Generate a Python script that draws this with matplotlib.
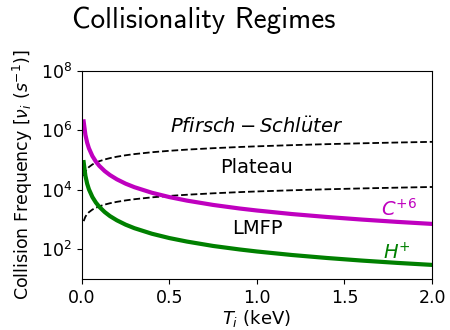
import os
import matplotlib
matplotlib.use("Agg")
import matplotlib.pyplot as plt
from matplotlib.font_manager import FontProperties

# Ion temperature grid (keV)
T_keV = [0.01, 0.02, 0.03, 0.04, 0.06, 0.08, 0.1, 0.13, 0.16, 0.2, 0.25, 0.3,
         0.4, 0.5, 0.6, 0.75, 0.9, 1.0, 1.2, 1.4, 1.6, 1.8, 2.0]

# Collision frequencies (1/s)
nu_H = [85000, 29500, 16000, 10400, 5680, 3690, 2640, 1780, 1300, 933, 667, 508,
        330, 236, 180, 128, 97.7, 83.4, 63.5, 50.4, 41.2, 34.5, 29.5]
nu_C = [2.0e6, 708000, 385000, 250000, 136000, 88500, 63300, 42700, 31300, 22400,
        16000, 12200, 7920, 5660, 4310, 3080, 2340, 2000, 1520, 1210, 990, 829, 708]

# Regime boundaries (1/s)
nu_PS = [29000, 41000, 50200, 58000, 71000, 82000, 91700, 104500, 116000, 129700,
         145000, 158800, 183400, 205000, 224600, 251000, 275000, 290000, 317600,
         343000, 366700, 389000, 410000]
nu_LMFP = [877, 1240, 1520, 1750, 2150, 2480, 2770, 3160, 3510, 3920, 4380, 4800,
           5550, 6200, 6790, 7590, 8320, 8770, 9600, 10370, 11090, 11760, 12400]

plt.rcParams['mathtext.fontset'] = 'dejavusans'

fig = plt.figure(figsize=(4.5, 3.3), dpi=100)
ax = fig.add_axes([0.182, 0.155, 0.778, 0.63])

ax.plot(T_keV, nu_PS, 'k--', lw=1.3)
ax.plot(T_keV, nu_LMFP, 'k--', lw=1.3)
ax.plot(T_keV, nu_C, color='m', lw=3)
ax.plot(T_keV, nu_H, color='g', lw=3)

ax.set_yscale('log')
ax.set_xlim(0, 2)
ax.set_ylim(10, 1e8)
ax.set_yticks([1e2, 1e4, 1e6, 1e8])

ax.text(1.0, 1.3e6, r'$Pfirsch-Schl\ddot{u}ter$', fontsize=14, ha='center', va='center')
ax.text(1.0, 5.4e4, 'Plateau', fontsize=14, ha='center', va='center')
ax.text(1.0, 500, 'LMFP', fontsize=14, ha='center', va='center')
ax.text(1.81, 2300, r'$C^{+6}$', fontsize=14, color='m', ha='center', va='center')
ax.text(1.8, 75, r'$H^{+}$', fontsize=14, color='g', ha='center', va='center')

ax.tick_params(labelsize=12.5)
ax.set_xlabel(r'$T_i$ (keV)', fontsize=13, labelpad=1)
ax.set_ylabel(r'Collision Frequency $[\nu_i\ (s^{-1})]$', fontsize=12.5, labelpad=4)

cmss = FontProperties(fname=os.path.join(matplotlib.get_data_path(), 'fonts', 'ttf', 'cmss10.ttf'),
                      size=21)
fig.text(0.16, 0.94, 'Collisionality Regimes', fontproperties=cmss,
         ha='left', va='center')

fig.savefig('out.png', dpi=100)
